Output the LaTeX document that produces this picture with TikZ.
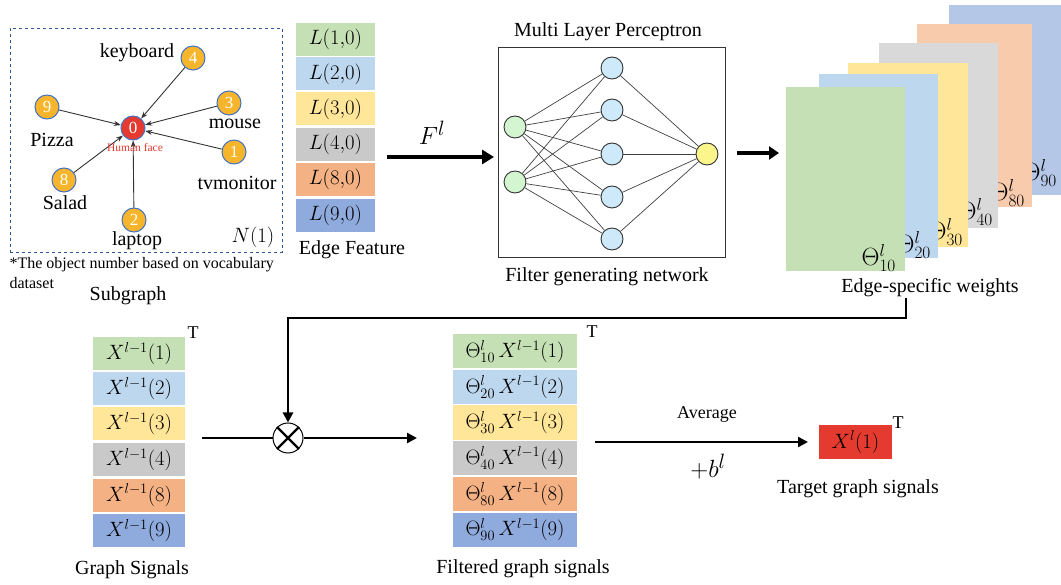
\documentclass[tikz,border=0pt]{standalone}
\usepackage{fontspec}
\setmainfont{Liberation Serif}
\usetikzlibrary{arrows.meta,calc}
\definecolor{cgreen}{HTML}{C5E0B4}
\definecolor{cblue}{HTML}{BDD7EE}
\definecolor{cyellow}{HTML}{FFE699}
\definecolor{cgray}{HTML}{C9C9C9}
\definecolor{corange}{HTML}{F4B183}
\definecolor{cdblue}{HTML}{8FAADC}
\definecolor{kgray}{HTML}{D9D9D9}
\definecolor{korange}{HTML}{F8CBAD}
\definecolor{kblue}{HTML}{B4C7E7}
\definecolor{objfill}{HTML}{F7B52C}
\definecolor{objborder}{HTML}{4472C4}
\definecolor{objred}{HTML}{E53A2F}
\definecolor{dashblue}{HTML}{2F5597}
\definecolor{ngreen}{HTML}{D3F5D0}
\definecolor{nblue}{HTML}{CDE9FA}
\definecolor{nyellow}{HTML}{FBF58C}
\begin{document}
\begin{tikzpicture}[x=1pt,y=-1pt,
  f20/.style={font=\fontsize{20}{24}\selectfont},
  f18/.style={font=\fontsize{18}{21}\selectfont},
  f16/.style={font=\fontsize{16}{19}\selectfont},
  cell/.style={minimum height=33pt, inner sep=0pt, font=\fontsize{22}{25}\selectfont},
  efcell/.style={cell, minimum width=79pt},
  gscell/.style={cell, minimum width=92pt},
  ficell/.style={cell, minimum width=124pt, minimum height=34pt},
  obj/.style={circle, draw=objborder, line width=1pt, fill=objfill, minimum size=24pt, inner sep=0pt, text=white, font=\fontsize{17}{20}\selectfont},
  edge/.style={draw=black!80, line width=0.9pt, -{Stealth[length=7pt,width=5pt]}},
  neuron/.style={circle, draw=black!80, line width=0.9pt, minimum size=22pt, inner sep=0pt},
  nlink/.style={draw=black!75, line width=0.7pt},
  card/.style={inner sep=0pt, anchor=north west},
  bigarrow/.style={line width=4pt, -{Triangle[length=12pt,width=14pt]}},
  flow/.style={line width=2.4pt},
  flowarrow/.style={line width=2.4pt, -{Triangle[length=10pt,width=10pt]}},
  theta/.style={anchor=east, font=\fontsize{23}{26}\selectfont}
]
\useasboundingbox (0,0) rectangle (1061,585);

% ---------------- Subgraph ----------------
\node[draw=dashblue, dashed, line width=0.8pt, minimum width=272pt, minimum height=224pt, inner sep=0pt] (sgbox) at (146,140) {};
\node[obj, fill=objred] (n0) at (133,128) {0};
\node[obj] (n4) at (193,58) {4};
\node[obj] (n9) at (47,107) {9};
\node[obj] (n3) at (229,103) {3};
\node[obj] (n1) at (234,152) {1};
\node[obj] (n8) at (64,180) {8};
\node[obj] (n2) at (134,220) {2};
\foreach \s in {n4,n9,n3,n1,n8,n2} \draw[edge] (\s) -- (n0);
\node[f20] (lkey) at (137,53) {keyboard};
\node[f20] (lpiz) at (52,140) {Pizza};
\node[f20] (lmou) at (235,124) {mouse};
\node[f20] (ltv) at (237,183) {tvmonitor};
\node[f20] (lsal) at (65,203) {Salad};
\node[f20] (llap) at (137,241) {laptop};
\node[font=\fontsize{11.5}{13}\selectfont, text=objred] (lhum) at (135,148) {Human face};
\node[f20] (ln1) at (253,237) {$N(1)$};
\node[f16, anchor=west] (foot1) at (6,265) {*The object number based on vocabulary};
\node[f16, anchor=west] (foot2) at (6,283) {dataset};
\node[f20] (lsub) at (128,296) {Subgraph};

% ---------------- Edge features ----------------
\node[efcell, fill=cgreen] (ef1) at (335.5,39.5) {$L(1{,}0)$};
\node[efcell, fill=cblue] (ef2) at (335.5,74) {$L(2{,}0)$};
\node[efcell, fill=cyellow] (ef3) at (335.5,109) {$L(3{,}0)$};
\node[efcell, fill=cgray] (ef4) at (335.5,144.5) {$L(4{,}0)$};
\node[efcell, fill=corange] (ef8) at (335.5,179.5) {$L(8{,}0)$};
\node[efcell, fill=cdblue] (ef9) at (335.5,215.5) {$L(9{,}0)$};
\node[f20] (lef) at (352,250) {Edge Feature};

\coordinate (fa) at (387,157);
\coordinate (fb) at (494,157);
\draw[bigarrow] (fa) -- (fb);
\node[font=\fontsize{31}{35}\selectfont] (fl) at (432,133) {$F^{l}$};

% ---------------- MLP ----------------
\node[draw=black!80, line width=0.9pt, minimum width=227pt, minimum height=210pt, inner sep=0pt] (mlp) at (611.5,152) {};
\node[f20] (lmlp) at (608,32) {Multi Layer Perceptron};
\node[f20] (lfgn) at (607,277) {Filter generating network};
\node[neuron, fill=ngreen] (i1) at (515,127) {};
\node[neuron, fill=ngreen] (i2) at (515,182) {};
\node[neuron, fill=nblue] (h1) at (612,68) {};
\node[neuron, fill=nblue] (h2) at (612,110) {};
\node[neuron, fill=nblue] (h3) at (612,154) {};
\node[neuron, fill=nblue] (h4) at (612,197) {};
\node[neuron, fill=nblue] (h5) at (612,239) {};
\node[neuron, fill=nyellow] (o1) at (707,154) {};
\foreach \i in {i1,i2} \foreach \h in {h1,h2,h3,h4,h5} \draw[nlink] (\i) -- (\h);
\foreach \h in {h1,h2,h3,h4,h5} \draw[nlink] (\h) -- (o1);

\coordinate (ma) at (737,153);
\coordinate (mb) at (779,153);
\draw[line width=4pt, -{Triangle[length=10pt,width=13pt]}] (ma) -- (mb);

% ---------------- Edge-specific weights ----------------
\node[card, fill=kblue, minimum width=112pt, minimum height=190pt] (k90) at (949,5) {};
\node[theta] at ($(k90.south east)+(-1,-22)$) {$\Theta^{l}_{90}$};
\node[card, fill=korange, minimum width=115pt, minimum height=183pt] (k80) at (917,24) {};
\node[theta] at ($(k80.south east)+(-4,-14)$) {$\Theta^{l}_{80}$};
\node[card, fill=kgray, minimum width=119pt, minimum height=185pt] (k40) at (879,43) {};
\node[theta] at ($(k40.south east)+(-2,-16)$) {$\Theta^{l}_{40}$};
\node[card, fill=cyellow, minimum width=120pt, minimum height=184pt] (k30) at (848,63) {};
\node[theta] at ($(k30.south east)+(-2,-15)$) {$\Theta^{l}_{30}$};
\node[card, fill=cblue, minimum width=119pt, minimum height=184pt] (k20) at (819,74) {};
\node[theta] at ($(k20.south east)+(-4,-13)$) {$\Theta^{l}_{20}$};
\node[card, fill=cgreen, minimum width=119pt, minimum height=184pt] (k10) at (786,87) {};
\node[theta] at ($(k10.south east)+(-6,-13)$) {$\Theta^{l}_{10}$};
\node[f20] (lesw) at (930,288) {Edge-specific weights};

% ---------------- Graph signals ----------------
\node[gscell, fill=cgreen] (g1) at (139,353.5) {$X^{l-1}(1)$};
\node[gscell, fill=cblue] (g2) at (139,388.5) {$X^{l-1}(2)$};
\node[gscell, fill=cyellow] (g3) at (139,423.5) {$X^{l-1}(3)$};
\node[gscell, fill=cgray] (g4) at (139,459.5) {$X^{l-1}(4)$};
\node[gscell, fill=corange] (g8) at (139,495) {$X^{l-1}(8)$};
\node[gscell, fill=cdblue] (g9) at (139,530.5) {$X^{l-1}(9)$};
\node[f18] (tg) at (193,333) {T};
\node[f20] (lgs) at (132,570) {Graph Signals};

% ---------------- Multiplication ----------------
\node[circle, draw=black, line width=1pt, fill=white, minimum size=30pt, inner sep=0pt] (mul) at (288,438) {};
\draw[line width=2.4pt] (mul.north west) -- (mul.south east) (mul.north east) -- (mul.south west);
\coordinate (gsout) at (202,438);
\coordinate (fiin) at (417,438);
\draw[flow] (gsout) -- (mul.west);
\draw[flowarrow] (mul.east) -- (fiin);
\coordinate (fbs) at (906,298);
\draw[flowarrow] (fbs) -- ++(0,20) -| (mul.north);

% ---------------- Filtered graph signals ----------------
\node[ficell, fill=cgreen] (f1) at (515,351.5) {$\Theta^{l}_{10}\,X^{l-1}(1)$};
\node[ficell, fill=cblue] (f2) at (515,387) {$\Theta^{l}_{20}\,X^{l-1}(2)$};
\node[ficell, fill=cyellow] (f3) at (515,422.5) {$\Theta^{l}_{30}\,X^{l-1}(3)$};
\node[ficell, fill=cgray] (f4) at (515,458) {$\Theta^{l}_{40}\,X^{l-1}(4)$};
\node[ficell, fill=corange] (f8) at (515,494) {$\Theta^{l}_{80}\,X^{l-1}(8)$};
\node[ficell, fill=cdblue] (f9) at (515,529.5) {$\Theta^{l}_{90}\,X^{l-1}(9)$};
\node[f18] (tf) at (592,332) {T};
\node[f20] (lfi) at (523,569) {Filtered graph signals};

% ---------------- Average / target ----------------
\coordinate (avs) at (595,442);
\coordinate (ave) at (808,442);
\draw[flowarrow] (avs) -- (ave);
\node[f18] (lavg) at (707,415) {Average};
\node[font=\fontsize{31}{35}\selectfont] (lb) at (708,467) {$+b^{l}$};
\node[cell, fill=objred, minimum width=73pt, minimum height=34pt] (tx) at (855.5,442) {$X^{l}(1)$};
\node[f18] (tt) at (898,423) {T};
\node[f20] (ltg) at (858,489) {Target graph signals};
\end{tikzpicture}
\end{document}
